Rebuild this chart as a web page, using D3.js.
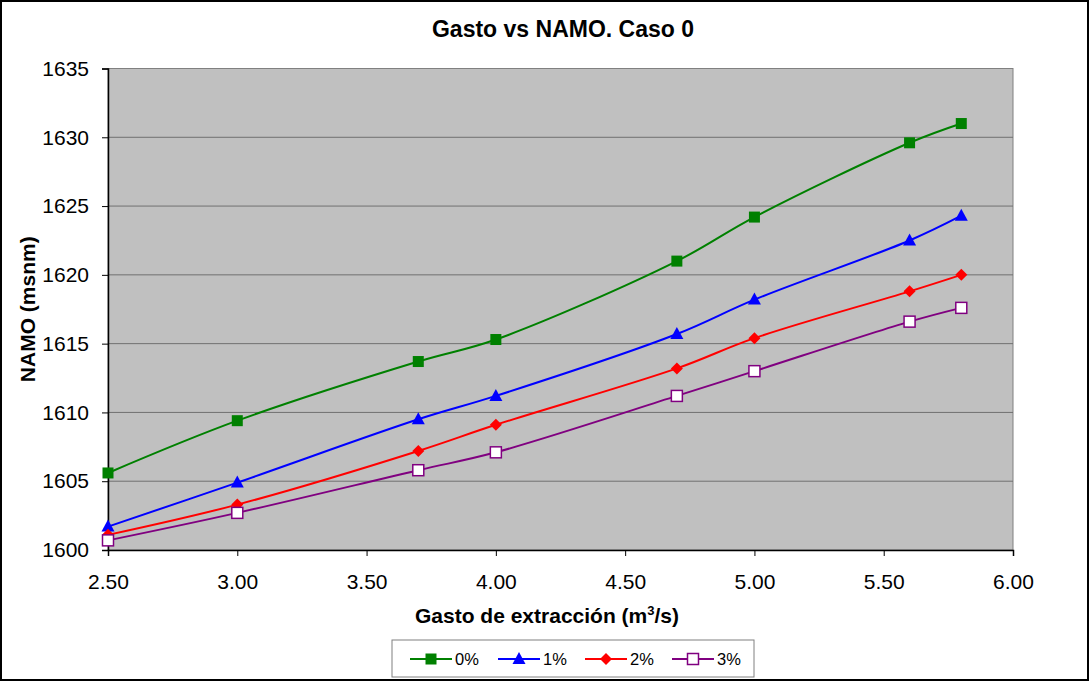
<!DOCTYPE html>
<html>
<head>
<meta charset="utf-8">
<script src="https://cdn.jsdelivr.net/npm/d3@7"></script>
<style>
  body { margin: 0; background: #fff; }
  svg { display: block; font-family: Arial, "Liberation Sans", sans-serif; }
</style>
</head>
<body>
<div id="chart"></div>
<script>
// data
var gasto = [2.5, 3.0, 3.7, 4.0, 4.7, 5.0, 5.6, 5.8];
var caso0 = [1605.6, 1609.4, 1613.7, 1615.3, 1621.0, 1624.2, 1629.6, 1631.0];
var caso1 = [1601.7, 1604.9, 1609.5, 1611.2, 1615.7, 1618.2, 1622.5, 1624.3];
var caso2 = [1601.1, 1603.3, 1607.2, 1609.1, 1613.2, 1615.4, 1618.8, 1620.0];
var caso3 = [1600.7, 1602.7, 1605.8, 1607.1, 1611.2, 1613.0, 1616.6, 1617.6];
var seriesNames = ['0%', '1%', '2%', '3%'];
var xTicks = [2.5, 3.0, 3.5, 4.0, 4.5, 5.0, 5.5, 6.0];
var yTicks = [1600, 1605, 1610, 1615, 1620, 1625, 1630, 1635];

var W = 1090, H = 682;
var margin = {top: 68.5, right: 77, bottom: 132, left: 108};
var width = W - margin.left - margin.right,
    height = H - margin.top - margin.bottom;

var svg = d3.select('#chart').append('svg')
  .attr('width', W)
  .attr('height', H);

// outer frame
svg.append('rect')
  .attr('x', 1).attr('y', 1)
  .attr('width', W - 3).attr('height', H - 3)
  .attr('fill', '#fff').attr('stroke', '#000').attr('stroke-width', 2);

var x = d3.scaleLinear().domain([2.5, 6.0]).range([0, width]);
var y = d3.scaleLinear().domain([1600, 1635]).range([height, 0]);

var g = svg.append('g')
  .attr('transform', 'translate(' + margin.left + ',' + margin.top + ')');

// plot background
g.append('rect')
  .attr('width', width).attr('height', height)
  .attr('fill', '#c0c0c0').attr('stroke', '#808080').attr('stroke-width', 1);

// gridlines
g.selectAll('.grid').data(yTicks.slice(1, -1)).enter().append('line')
  .attr('class', 'grid')
  .attr('x1', 0).attr('x2', width)
  .attr('y1', function(d) { return y(d); })
  .attr('y2', function(d) { return y(d); })
  .attr('stroke', '#707070').attr('stroke-width', 1);

// axes
var xAxis = g.append('g')
  .attr('transform', 'translate(0,' + height + ')')
  .call(d3.axisBottom(x).tickValues(xTicks).tickFormat(d3.format('.2f'))
    .tickSizeOuter(0).tickSize(6).tickPadding(18));
var yAxis = g.append('g')
  .call(d3.axisLeft(y).tickValues(yTicks).tickFormat(d3.format('d'))
    .tickSizeOuter(0).tickSize(6).tickPadding(13));

[xAxis, yAxis].forEach(function(a) {
  a.attr('font-size', null).attr('font-family', null);
  a.select('.domain').attr('stroke', '#000').attr('stroke-width', 1.5);
  a.selectAll('.tick line').attr('stroke', '#000');
  a.selectAll('.tick text').attr('font-size', 21).attr('fill', '#000');
});

// series
var colors = ['#008000', '#0000ff', '#ff0000', '#800080'];
var allSeries = [caso0, caso1, caso2, caso3].map(function(vals, i) {
  return {
    name: seriesNames[i],
    color: colors[i],
    points: vals.map(function(v, j) { return {x: gasto[j], y: v}; })
  };
});

var line = d3.line()
  .x(function(d) { return x(d.x); })
  .y(function(d) { return y(d.y); })
  .curve(d3.curveCatmullRom.alpha(0.5));

function drawMarker(sel, i, color) {
  if (i === 0) {
    sel.append('rect').attr('x', -5.5).attr('y', -5.5).attr('width', 11).attr('height', 11)
      .attr('fill', color);
  } else if (i === 1) {
    sel.append('path').attr('d', 'M0,-7L6.5,5L-6.5,5Z').attr('fill', color);
  } else if (i === 2) {
    sel.append('path').attr('d', 'M0,-6L6,0L0,6L-6,0Z').attr('fill', color);
  } else {
    sel.append('rect').attr('x', -5.5).attr('y', -5.5).attr('width', 11).attr('height', 11)
      .attr('fill', '#fff').attr('stroke', color).attr('stroke-width', 1.5);
  }
}

allSeries.forEach(function(s, i) {
  g.append('path').datum(s.points)
    .attr('d', line)
    .attr('fill', 'none')
    .attr('stroke', s.color)
    .attr('stroke-width', 2);
  s.points.forEach(function(p) {
    var m = g.append('g').attr('transform', 'translate(' + x(p.x) + ',' + y(p.y) + ')');
    drawMarker(m, i, s.color);
  });
});

// title + axis labels
svg.append('text')
  .attr('x', 563).attr('y', 37)
  .attr('text-anchor', 'middle')
  .attr('font-size', 23).attr('font-weight', 'bold')
  .text('Gasto vs NAMO. Caso 0');

var xl = svg.append('text')
  .attr('x', 547).attr('y', 623)
  .attr('text-anchor', 'middle')
  .attr('font-size', 21).attr('font-weight', 'bold');
xl.append('tspan').text('Gasto de extracción (m');
xl.append('tspan').attr('font-size', 13).attr('dy', -8).text('3');
xl.append('tspan').attr('dy', 8).text('/s)');

svg.append('text')
  .attr('transform', 'translate(35,' + (margin.top + height / 2) + ') rotate(-90)')
  .attr('text-anchor', 'middle')
  .attr('font-size', 21).attr('font-weight', 'bold')
  .text('NAMO (msnm)');

// legend
var legend = svg.append('g').attr('transform', 'translate(392,640)');
legend.append('rect')
  .attr('width', 362).attr('height', 37)
  .attr('fill', '#fff').attr('stroke', '#808080').attr('stroke-width', 1);

var legendX = [18, 106, 193, 280];
allSeries.forEach(function(s, i) {
  var item = legend.append('g').attr('transform', 'translate(' + legendX[i] + ',19)');
  item.append('line').attr('x1', 0).attr('x2', 42).attr('y1', 0).attr('y2', 0)
    .attr('stroke', s.color).attr('stroke-width', 2);
  var m = item.append('g').attr('transform', 'translate(21,0)');
  drawMarker(m, i, s.color);
  item.append('text').attr('x', 45).attr('y', 0).attr('dy', '0.35em')
    .attr('font-size', 16.5).text(s.name);
});
</script>
</body>
</html>
